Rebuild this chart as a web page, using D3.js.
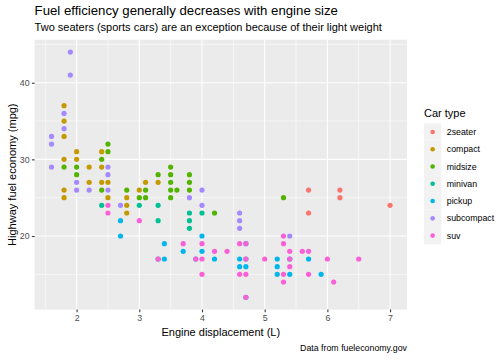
<!DOCTYPE html>
<html><head><meta charset="utf-8">
<script src="https://cdn.jsdelivr.net/npm/d3@7"></script>
<style>body{margin:0;background:#fff}svg{display:block;font-family:"Liberation Sans",Arial,sans-serif}</style>
</head><body><svg id="c" width="504" height="360"></svg>
<script>
const classes = ["2seater","compact","midsize","minivan","pickup","subcompact","suv"];
const colors = ["#F8766D","#C49A00","#53B400","#00C094","#00B6EB","#A58AFF","#FB61D7"];
const xTicks = [2,3,4,5,6,7];
const yTicks = [20,30,40];
const xMinor = [1.5,2.5,3.5,4.5,5.5,6.5];
const yMinor = [15,25,35,45];

const displ2seater = [5.7,6.2,6.2,5.7,7.0];
const hwy2seater   = [26,26,25,23,24];
const displCompact = [1.8,1.8,1.8,2.0,2.4,1.8,2.0,2.2,2.4,2.2,2.4,2.5,3.1,3.3,1.8,3.0,1.8,2.5,2.8,2.8,2.8];
const hwyCompact   = [37,35,33,31,31,30,30,29,29,27,27,27,27,27,26,26,25,25,25,24,23];
const displMidsize = [1.8,2.0,2.0,2.4,2.5,2.5,2.4,2.8,3.0,3.1,3.1,3.3,3.5,3.5,3.5,3.5,3.5,3.6,3.8,3.8,3.8,4.2,5.3];
const hwyMidsize   = [29,29,28,30,32,31,26,26,25,26,25,28,29,28,27,26,25,26,28,27,26,23,25];
const displMinivan = [2.4,3.0,3.3,3.3,3.3,3.8,3.8,3.8,4.0];
const hwyMinivan   = [24,24,24,22,17,23,22,21,23];
const displPickup  = [2.7,2.7,3.4,3.4,3.7,3.9,4.0,4.0,4.2,4.6,4.6,4.7,4.7,4.7,4.7,5.2,5.2,5.2,5.4,5.4,5.7,5.9];
const hwyPickup    = [22,20,19,17,18,17,20,18,17,17,16,19,17,16,12,17,16,15,17,15,17,15];
const displSubcompact = [1.9,1.9,1.8,1.8,1.6,1.6,1.6,2.5,2.5,2.0,2.0,2.2,2.5,2.7,3.8,4.0,4.0,4.6,4.6,4.6,5.4];
const hwySubcompact   = [44,41,36,34,33,32,29,29,28,27,26,26,26,24,25,26,24,23,22,21,20];
const displSuv = [2.5,2.5,3.0,3.3,3.7,3.9,4.0,4.0,4.0,4.2,4.4,4.6,4.6,4.7,4.7,4.7,4.7,5.0,5.3,5.3,5.3,5.3,5.4,5.4,5.4,5.6,5.7,5.7,6.0,6.1,6.5];
const hwySuv   = [24,23,22,17,19,17,19,17,15,18,18,19,15,19,17,15,12,17,20,19,15,14,18,17,16,18,18,15,17,14,17];

const displByClass = [displ2seater,displCompact,displMidsize,displMinivan,displPickup,displSubcompact,displSuv];
const hwyByClass = [hwy2seater,hwyCompact,hwyMidsize,hwyMinivan,hwyPickup,hwySubcompact,hwySuv];

const svg = d3.select("#c");
const L = 34.6, R = 407, T = 39.8, B = 309.6;
const x = d3.scaleLinear().domain([1.33, 7.27]).range([L, R]);
const y = d3.scaleLinear().domain([10.4, 45.6]).range([B, T]);
const color = d3.scaleOrdinal().domain(classes).range(colors);

svg.append("rect").attr("x",L).attr("y",T).attr("width",R-L).attr("height",B-T).attr("fill","#EBEBEB");
const g = svg.append("g");
g.selectAll(".vm").data(xMinor).join("line").attr("x1",d=>x(d)).attr("x2",d=>x(d)).attr("y1",T).attr("y2",B).attr("stroke","#fff").attr("stroke-width",0.53);
g.selectAll(".hm").data(yMinor).join("line").attr("y1",d=>y(d)).attr("y2",d=>y(d)).attr("x1",L).attr("x2",R).attr("stroke","#fff").attr("stroke-width",0.53);
g.selectAll(".vM").data(xTicks).join("line").attr("x1",d=>x(d)).attr("x2",d=>x(d)).attr("y1",T).attr("y2",B).attr("stroke","#fff").attr("stroke-width",1.07);
g.selectAll(".hM").data(yTicks).join("line").attr("y1",d=>y(d)).attr("y2",d=>y(d)).attr("x1",L).attr("x2",R).attr("stroke","#fff").attr("stroke-width",1.07);

// points
classes.forEach((c,i)=>{
  const pts = displByClass[i].map((d,j)=>({d, h:hwyByClass[i][j]}));
  svg.append("g").selectAll("circle").data(pts).join("circle")
    .attr("cx",p=>x(p.d)).attr("cy",p=>y(p.h)).attr("r",2.6).attr("fill",color(c));
});

// axes
const xa = svg.append("g").attr("transform",`translate(0,${B})`)
  .call(d3.axisBottom(x).tickValues(xTicks).tickSize(2.75).tickPadding(2.4).tickFormat(d3.format("d")));
const ya = svg.append("g").attr("transform",`translate(${L},0)`)
  .call(d3.axisLeft(y).tickValues(yTicks).tickSize(2.75).tickPadding(2.2).tickFormat(d3.format("d")));
[xa,ya].forEach(a=>{
  a.select(".domain").remove();
  a.selectAll(".tick line").attr("stroke","#333333").attr("stroke-width",1.07);
  a.selectAll(".tick text").attr("fill","#4D4D4D").style("font-size","8.8px").style("font-family","'Liberation Sans',Arial,sans-serif");
});

// titles
svg.append("text").attr("x",L).attr("y",15).attr("font-size","13.2px").attr("fill","#000").text("Fuel efficiency generally decreases with engine size");
svg.append("text").attr("x",L).attr("y",31).attr("font-size","11px").attr("fill","#000").text("Two seaters (sports cars) are an exception because of their light weight");
svg.append("text").attr("x",(L+R)/2).attr("y",336).attr("text-anchor","middle").attr("font-size","11px").text("Engine displacement (L)");
svg.append("text").attr("transform",`translate(16,${(T+B)/2}) rotate(-90)`).attr("text-anchor","middle").attr("font-size","11px").text("Highway fuel economy (mpg)");
svg.append("text").attr("x",R).attr("y",351).attr("text-anchor","end").attr("font-size","8.8px").text("Data from fueleconomy.gov");

// legend
const lx = 424, ly = 123.3, ks = 17.28;
svg.append("text").attr("x",lx).attr("y",116.5).attr("font-size","11px").text("Car type");
const lg = svg.append("g");
lg.selectAll("rect").data(classes).join("rect").attr("x",lx).attr("y",(d,i)=>ly+i*ks).attr("width",ks).attr("height",ks).attr("fill","#F2F2F2");
lg.selectAll("circle").data(classes).join("circle").attr("cx",lx+ks/2).attr("cy",(d,i)=>ly+i*ks+ks/2).attr("r",2.3).attr("fill",d=>color(d));
lg.selectAll("text").data(classes).join("text").attr("x",lx+ks+5.5).attr("y",(d,i)=>ly+i*ks+ks/2+3.1).attr("font-size","8.8px").attr("fill","#000").text(d=>d);
</script></body></html>
